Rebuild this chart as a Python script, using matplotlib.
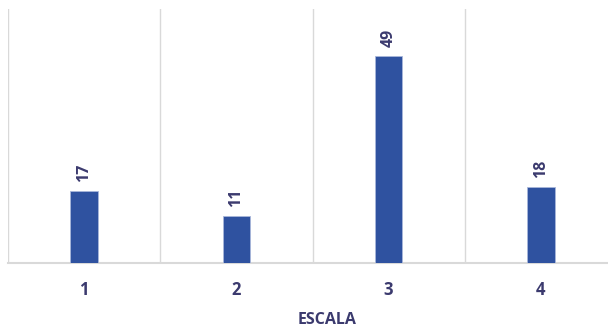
import numpy as np
import matplotlib.pyplot as plt

plt.rcParams['font.family'] = ['Open Sans', 'DejaVu Sans']

categories = ['1', '2', '3', '4']
values = [17, 11, 49, 18]

BAR = '#2F52A0'
TXT = '#3B3A6E'
GRID = '#D9D9D9'

fig = plt.figure(figsize=(6.08, 3.28), dpi=100)
ax = fig.add_axes([8 / 608, 1 - 263 / 328, 609 / 608, 254 / 328])

x = np.arange(len(categories))
ax.bar(x, values, width=0.18, color=BAR, edgecolor='#A9B7DA', linewidth=0.6, zorder=3)
for xi, v in zip(x, values):
    ax.annotate(str(v), (xi, v), xytext=(0, 6.5), textcoords='offset points',
                rotation=90, ha='center', va='bottom', fontsize=11.5,
                fontweight='bold', color=TXT)

ax.set_xlim(-0.5, len(categories) - 0.5)
ax.set_ylim(0, 60)
for b in np.arange(-0.5, len(categories), 1):
    ax.axvline(b, color=GRID, lw=1, zorder=1)
ax.set_xticks(x)
ax.set_xticklabels(categories, fontsize=12, fontweight='bold', color=TXT)
ax.tick_params(axis='x', length=0, pad=13)
ax.set_yticks([])
for s in ['top', 'right', 'left']:
    ax.spines[s].set_visible(False)
ax.spines['bottom'].set_color(GRID)
ax.spines['bottom'].set_linewidth(1.5)

fig.text(327 / 608, 1 - 320 / 328, 'ESCALA', ha='center', va='center',
         fontsize=11.5, fontweight='bold', color=TXT)

fig.savefig('out.png', dpi=100)
